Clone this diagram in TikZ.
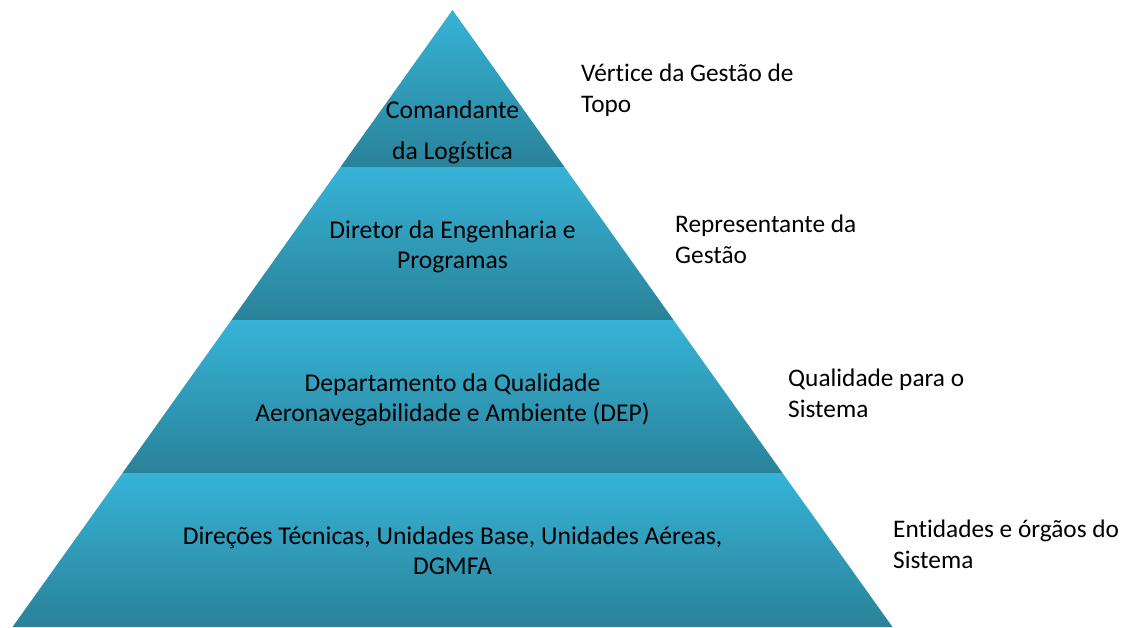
\documentclass[tikz,border=0pt]{standalone}
\usepackage{fontspec}
\setmainfont{Carlito}[Ligatures=NoCommon]
\definecolor{laytop}{RGB}{54,179,215}
\definecolor{laymid}{RGB}{47,160,192}
\definecolor{laybot}{RGB}{42,130,153}
\begin{document}
\begin{tikzpicture}[x=1pt,y=-1pt,
  layer/.style={top color=laytop,middle color=laymid,bottom color=laybot,draw=none},
  ptext/.style={font=\fontsize{25.6}{30}\selectfont,align=center,inner sep=0pt,anchor=base},
  rtext/.style={font=\fontsize{25.3}{31}\selectfont,align=left,inner sep=0pt,anchor=base west}]
\fill[white] (0,0) rectangle (1135,627);
\useasboundingbox (0,0) rectangle (1135,627);
% corners
\coordinate (apex) at (452.5,10);
\coordinate (l1) at (340.5,167);  \coordinate (r1) at (564.5,167);
\coordinate (l2) at (231.5,320);  \coordinate (r2) at (673.5,320);
\coordinate (l3) at (122.5,473);  \coordinate (r3) at (782.5,473);
\coordinate (l4) at (12.5,627);   \coordinate (r4) at (892.5,627);
% layers
\shade[layer] (apex) -- (r1) -- (l1) -- cycle;
\shade[layer] (l1) -- (r1) -- (r2) -- (l2) -- cycle;
\shade[layer] (l2) -- (r2) -- (r3) -- (l3) -- cycle;
\shade[layer] (l3) -- (r3) -- (r4) -- (l4) -- cycle;
% pyramid texts (base = last line)
\node[ptext] (t1) at (452.5,159) {Comandante\\[11pt]da Logística};
\node[ptext] (t2) at (452.5,268) {Diretor da Engenharia e\\Programas};
\node[ptext] (t3) at (452.5,421) {Departamento da Qualidade\\Aeronavegabilidade e Ambiente (DEP)};
\node[ptext] (t4) at (452.5,574) {Direções Técnicas, Unidades Base, Unidades Aéreas,\\DGMFA};
% side labels
\node[rtext] (s1) at (581,112) {Vértice da Gestão de\\Topo};
\node[rtext] (s2) at (675,263) {Representante da\\Gestão};
\node[rtext] (s3) at (788,417) {Qualidade para o\\Sistema};
\node[rtext] (s4) at (893,568) {Entidades e órgãos do\\Sistema};
\end{tikzpicture}
\end{document}
